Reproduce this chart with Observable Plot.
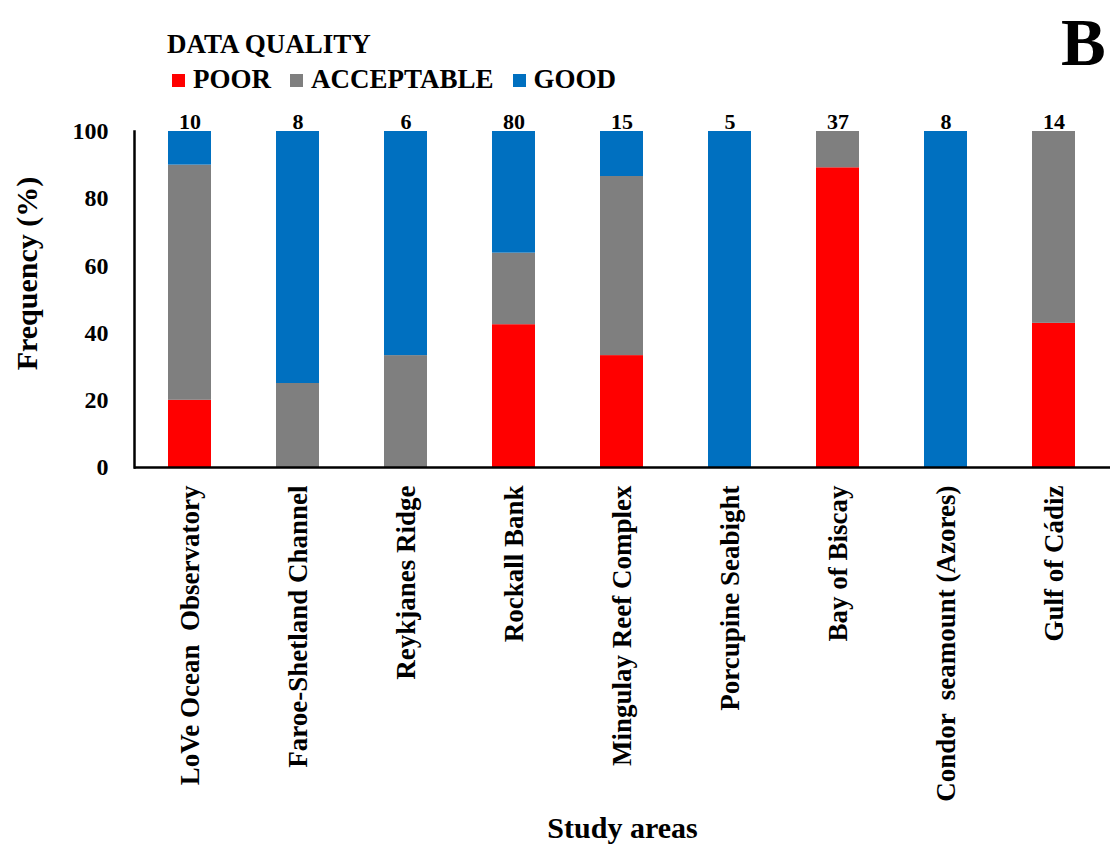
<!DOCTYPE html>
<html>
<head>
<meta charset="utf-8">
<script src="https://cdn.jsdelivr.net/npm/d3@7"></script>
<script src="https://cdn.jsdelivr.net/npm/@observablehq/plot@0.6"></script>
<style>
  html, body { margin: 0; padding: 0; background: #fff; }
  body, body * { font-family: "Liberation Serif", "Times New Roman", serif; font-weight: bold; }
  body { width: 1113px; height: 848px; overflow: hidden; color: #000; }
  #header { position: relative; height: 100px; width: 1113px; }
  #title { position: absolute; left: 167px; top: 31.4px; font-size: 27px; line-height: 27px; white-space: nowrap; }
  #legend { position: absolute; left: 172px; top: 66.4px; display: flex; align-items: center; font-size: 27px; line-height: 27px; white-space: nowrap; }
  .item { display: flex; align-items: center; margin-right: 19px; }
  .sw { width: 13px; height: 13px; margin-right: 8px; margin-top: 1px; }
  #panel { position: absolute; left: 1061px; top: 8.9px; font-size: 67px; line-height: 67px; }
  svg text { white-space: pre; font-family: "Liberation Serif", "Times New Roman", serif; }
</style>
</head>
<body>
<div id="header">
  <div id="title">DATA QUALITY</div>
  <div id="legend"></div>
  <div id="panel">B</div>
</div>
<div id="chart"></div>
<script>
const areas = ["LoVe Ocean  Observatory", "Faroe-Shetland Channel", "Reykjanes Ridge", "Rockall Bank",
  "Mingulay Reef Complex", "Porcupine Seabight", "Bay of Biscay", "Condor  seamount (Azores)", "Gulf of Cádiz"];
const counts = [10, 8, 6, 80, 15, 5, 37, 8, 14];
const poor = [20, 0, 0, 42.5, 33.3, 0, 89.2, 0, 42.9];
const acceptable = [70, 25, 33.3, 21.3, 53.3, 0, 10.8, 0, 57.1];
const good = [10, 75, 66.7, 36.2, 13.4, 100, 0, 100, 0];
const qualities = ["POOR", "ACCEPTABLE", "GOOD"];
const colors = ["#FF0000", "#7F7F7F", "#0070C0"];
const yTicks = [0, 20, 40, 60, 80, 100];

const series = [poor, acceptable, good];
const data = [];
areas.forEach((a, i) => {
  qualities.forEach((q, k) => data.push({area: a, quality: q, value: series[k][i]}));
});
const totals = areas.map((a, i) => ({area: a, n: counts[i], top: 100}));

const legend = document.getElementById("legend");
qualities.forEach((q, k) => {
  const it = document.createElement("div");
  it.className = "item";
  const sw = document.createElement("div");
  sw.className = "sw";
  sw.style.background = colors[k];
  const t = document.createElement("span");
  t.textContent = q;
  it.appendChild(sw); it.appendChild(t);
  legend.appendChild(it);
});

const font = '"Liberation Serif", "Times New Roman", serif';
const chart = Plot.plot({
  width: 1113,
  height: 748,
  marginTop: 31,
  marginBottom: 381,
  marginLeft: 134,
  marginRight: 3,
  style: {fontFamily: font, fontWeight: "bold", color: "#000", background: "#fff"},
  x: {domain: areas, paddingInner: 0.6, paddingOuter: 0.3, label: null},
  y: {domain: [0, 100], label: null},
  color: {domain: qualities, range: colors},
  marks: [
    Plot.barY(data, {x: "area", y: "value", fill: "quality"}),
    Plot.axisY({ticks: yTicks, tickSize: 0, tickPadding: 26, fontSize: 24, fontFamily: font, label: null, tickFormat: d => String(d)}),
    Plot.axisX({tickRotate: -90, tickSize: 0, tickPadding: 18, fontSize: 27, fontFamily: font, label: null}),
    Plot.frame({anchor: "left", strokeWidth: 2.5, stroke: "#000"}),
    Plot.ruleY([0], {strokeWidth: 2.5, stroke: "#000"}),
    Plot.text(totals, {x: "area", y: "top", text: "n", lineAnchor: "bottom", dy: -3, fontSize: 22, fontFamily: font, fontWeight: "bold"}),
    Plot.text(["Frequency (%)"], {frameAnchor: "left", textAnchor: "middle", rotate: -90, dx: -98, dy: -26, lineAnchor: "bottom", fontSize: 30, fontFamily: font, fontWeight: "bold"}),
    Plot.text(["Study areas"], {frameAnchor: "bottom", textAnchor: "middle", dy: 370, lineAnchor: "bottom", fontSize: 30, fontFamily: font, fontWeight: "bold"})
  ]
});
document.getElementById("chart").appendChild(chart);
</script>
</body>
</html>
